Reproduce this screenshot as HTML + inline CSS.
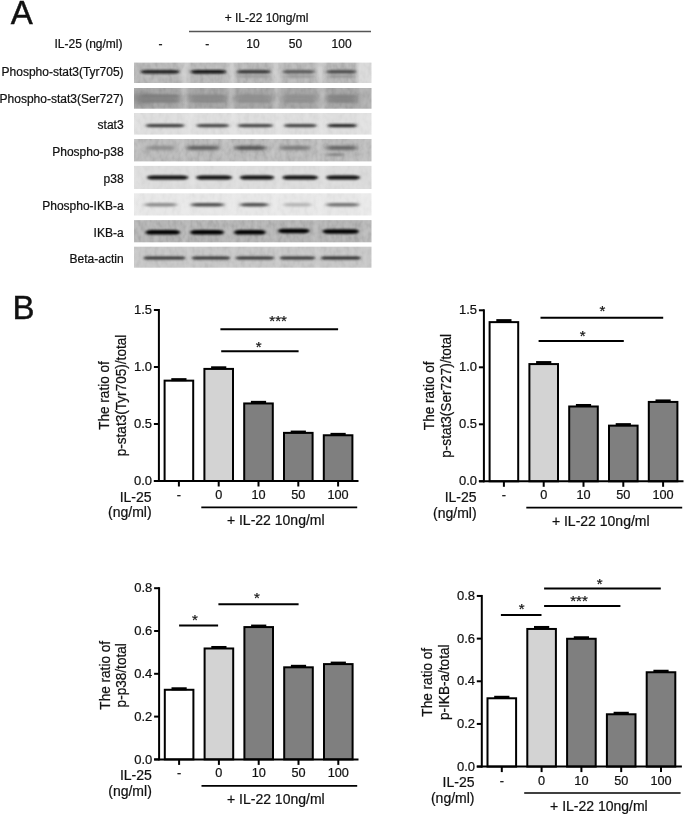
<!DOCTYPE html>
<html><head><meta charset="utf-8"><style>
html,body{margin:0;padding:0;background:#fff;width:685px;height:815px;overflow:hidden}
svg{display:block;will-change:transform}
text{font-family:"Liberation Sans",sans-serif;fill:#111;stroke:#111;stroke-width:0.22px}
</style></head><body>
<svg width="685" height="815" viewBox="0 0 685 815">
<defs><linearGradient id="g0" x1="0" x2="1" y1="0" y2="0"><stop offset="0.0000" stop-color="rgb(188,188,188)"/><stop offset="0.0168" stop-color="rgb(184,184,184)"/><stop offset="0.0337" stop-color="rgb(184,184,184)"/><stop offset="0.1853" stop-color="rgb(184,184,184)"/><stop offset="0.2105" stop-color="rgb(204,204,204)"/><stop offset="0.2189" stop-color="rgb(204,204,204)"/><stop offset="0.2442" stop-color="rgb(184,184,184)"/><stop offset="0.3815" stop-color="rgb(184,184,184)"/><stop offset="0.4059" stop-color="rgb(204,204,204)"/><stop offset="0.4143" stop-color="rgb(204,204,204)"/><stop offset="0.4387" stop-color="rgb(184,184,184)"/><stop offset="0.5697" stop-color="rgb(184,184,184)"/><stop offset="0.5964" stop-color="rgb(204,204,204)"/><stop offset="0.6048" stop-color="rgb(204,204,204)"/><stop offset="0.6316" stop-color="rgb(184,184,184)"/><stop offset="0.7549" stop-color="rgb(184,184,184)"/><stop offset="0.7811" stop-color="rgb(204,204,204)"/><stop offset="0.7895" stop-color="rgb(204,204,204)"/><stop offset="0.8156" stop-color="rgb(184,184,184)"/><stop offset="0.9297" stop-color="rgb(184,184,184)"/><stop offset="0.9507" stop-color="rgb(218,218,218)"/><stop offset="1.0000" stop-color="rgb(218,218,218)"/></linearGradient><filter id="f0_0" x="-30%" y="-200%" width="160%" height="500%"><feGaussianBlur stdDeviation="1.62 0.90"/></filter><filter id="f0_1" x="-30%" y="-200%" width="160%" height="500%"><feGaussianBlur stdDeviation="1.62 0.90"/></filter><filter id="f0_2" x="-30%" y="-200%" width="160%" height="500%"><feGaussianBlur stdDeviation="1.62 0.90"/></filter><filter id="f0_3" x="-30%" y="-200%" width="160%" height="500%"><feGaussianBlur stdDeviation="1.62 0.90"/></filter><filter id="f0_4" x="-30%" y="-200%" width="160%" height="500%"><feGaussianBlur stdDeviation="1.62 0.90"/></filter><filter id="f0_5" x="-30%" y="-200%" width="160%" height="500%"><feGaussianBlur stdDeviation="2.16 1.20"/></filter><filter id="f0_6" x="-30%" y="-200%" width="160%" height="500%"><feGaussianBlur stdDeviation="2.16 1.20"/></filter><filter id="f0_7" x="-30%" y="-200%" width="160%" height="500%"><feGaussianBlur stdDeviation="2.16 1.20"/></filter><linearGradient id="g1" x1="0" x2="1" y1="0" y2="0"><stop offset="0.0000" stop-color="rgb(166,166,166)"/><stop offset="0.0000" stop-color="rgb(170,170,170)"/><stop offset="0.0168" stop-color="rgb(166,166,166)"/><stop offset="0.1895" stop-color="rgb(166,166,166)"/><stop offset="0.2084" stop-color="rgb(186,186,186)"/><stop offset="0.2168" stop-color="rgb(186,186,186)"/><stop offset="0.2358" stop-color="rgb(166,166,166)"/><stop offset="0.3874" stop-color="rgb(166,166,166)"/><stop offset="0.4042" stop-color="rgb(186,186,186)"/><stop offset="0.4126" stop-color="rgb(186,186,186)"/><stop offset="0.4295" stop-color="rgb(166,166,166)"/><stop offset="0.5768" stop-color="rgb(166,166,166)"/><stop offset="0.5979" stop-color="rgb(186,186,186)"/><stop offset="0.6063" stop-color="rgb(186,186,186)"/><stop offset="0.6274" stop-color="rgb(166,166,166)"/><stop offset="0.7663" stop-color="rgb(166,166,166)"/><stop offset="0.7874" stop-color="rgb(186,186,186)"/><stop offset="0.7958" stop-color="rgb(186,186,186)"/><stop offset="0.8168" stop-color="rgb(166,166,166)"/><stop offset="0.9347" stop-color="rgb(166,166,166)"/><stop offset="0.9558" stop-color="rgb(176,176,176)"/><stop offset="1.0000" stop-color="rgb(176,176,176)"/></linearGradient><filter id="f1_0" x="-30%" y="-200%" width="160%" height="500%"><feGaussianBlur stdDeviation="3.60 2.00"/></filter><filter id="f1_1" x="-30%" y="-200%" width="160%" height="500%"><feGaussianBlur stdDeviation="3.60 2.00"/></filter><filter id="f1_2" x="-30%" y="-200%" width="160%" height="500%"><feGaussianBlur stdDeviation="3.60 2.00"/></filter><filter id="f1_3" x="-30%" y="-200%" width="160%" height="500%"><feGaussianBlur stdDeviation="3.60 2.00"/></filter><filter id="f1_4" x="-30%" y="-200%" width="160%" height="500%"><feGaussianBlur stdDeviation="3.60 2.00"/></filter><filter id="f1_5" x="-30%" y="-200%" width="160%" height="500%"><feGaussianBlur stdDeviation="5.40 3.00"/></filter><filter id="f1_6" x="-30%" y="-200%" width="160%" height="500%"><feGaussianBlur stdDeviation="1.80 1.00"/></filter><filter id="f1_7" x="-30%" y="-200%" width="160%" height="500%"><feGaussianBlur stdDeviation="1.80 1.00"/></filter><filter id="f1_8" x="-30%" y="-200%" width="160%" height="500%"><feGaussianBlur stdDeviation="1.80 1.00"/></filter><filter id="f1_9" x="-30%" y="-200%" width="160%" height="500%"><feGaussianBlur stdDeviation="1.80 1.00"/></filter><filter id="f1_10" x="-30%" y="-200%" width="160%" height="500%"><feGaussianBlur stdDeviation="1.80 1.00"/></filter><filter id="f1_11" x="-30%" y="-200%" width="160%" height="500%"><feGaussianBlur stdDeviation="1.80 1.00"/></filter><filter id="f1_12" x="-30%" y="-200%" width="160%" height="500%"><feGaussianBlur stdDeviation="1.80 1.00"/></filter><filter id="f1_13" x="-30%" y="-200%" width="160%" height="500%"><feGaussianBlur stdDeviation="1.80 1.00"/></filter><filter id="f1_14" x="-30%" y="-200%" width="160%" height="500%"><feGaussianBlur stdDeviation="1.80 1.00"/></filter><filter id="f1_15" x="-30%" y="-200%" width="160%" height="500%"><feGaussianBlur stdDeviation="1.80 1.00"/></filter><linearGradient id="g2" x1="0" x2="1" y1="0" y2="0"><stop offset="0.0000" stop-color="rgb(225,225,225)"/><stop offset="0.0379" stop-color="rgb(221,221,221)"/><stop offset="0.0547" stop-color="rgb(221,221,221)"/><stop offset="0.2072" stop-color="rgb(221,221,221)"/><stop offset="0.2335" stop-color="rgb(226,226,226)"/><stop offset="0.2419" stop-color="rgb(226,226,226)"/><stop offset="0.2682" stop-color="rgb(221,221,221)"/><stop offset="0.3949" stop-color="rgb(221,221,221)"/><stop offset="0.4143" stop-color="rgb(226,226,226)"/><stop offset="0.4227" stop-color="rgb(226,226,226)"/><stop offset="0.4421" stop-color="rgb(221,221,221)"/><stop offset="0.5798" stop-color="rgb(221,221,221)"/><stop offset="0.6040" stop-color="rgb(226,226,226)"/><stop offset="0.6124" stop-color="rgb(226,226,226)"/><stop offset="0.6366" stop-color="rgb(221,221,221)"/><stop offset="0.7642" stop-color="rgb(221,221,221)"/><stop offset="0.7876" stop-color="rgb(226,226,226)"/><stop offset="0.7960" stop-color="rgb(226,226,226)"/><stop offset="0.8194" stop-color="rgb(221,221,221)"/><stop offset="0.9335" stop-color="rgb(221,221,221)"/><stop offset="0.9545" stop-color="rgb(226,226,226)"/><stop offset="1.0000" stop-color="rgb(226,226,226)"/></linearGradient><filter id="f2_0" x="-30%" y="-200%" width="160%" height="500%"><feGaussianBlur stdDeviation="1.62 0.90"/></filter><filter id="f2_1" x="-30%" y="-200%" width="160%" height="500%"><feGaussianBlur stdDeviation="1.62 0.90"/></filter><filter id="f2_2" x="-30%" y="-200%" width="160%" height="500%"><feGaussianBlur stdDeviation="1.62 0.90"/></filter><filter id="f2_3" x="-30%" y="-200%" width="160%" height="500%"><feGaussianBlur stdDeviation="1.62 0.90"/></filter><filter id="f2_4" x="-30%" y="-200%" width="160%" height="500%"><feGaussianBlur stdDeviation="1.62 0.90"/></filter><linearGradient id="g3" x1="0" x2="1" y1="0" y2="0"><stop offset="0.0000" stop-color="rgb(190,190,190)"/><stop offset="0.0421" stop-color="rgb(186,186,186)"/><stop offset="0.0589" stop-color="rgb(186,186,186)"/><stop offset="0.1684" stop-color="rgb(186,186,186)"/><stop offset="0.1937" stop-color="rgb(192,192,192)"/><stop offset="0.2021" stop-color="rgb(192,192,192)"/><stop offset="0.2274" stop-color="rgb(186,186,186)"/><stop offset="0.3537" stop-color="rgb(186,186,186)"/><stop offset="0.3874" stop-color="rgb(192,192,192)"/><stop offset="0.3958" stop-color="rgb(192,192,192)"/><stop offset="0.4295" stop-color="rgb(186,186,186)"/><stop offset="0.5516" stop-color="rgb(186,186,186)"/><stop offset="0.5811" stop-color="rgb(192,192,192)"/><stop offset="0.5895" stop-color="rgb(192,192,192)"/><stop offset="0.6189" stop-color="rgb(186,186,186)"/><stop offset="0.7368" stop-color="rgb(186,186,186)"/><stop offset="0.7720" stop-color="rgb(192,192,192)"/><stop offset="0.7804" stop-color="rgb(192,192,192)"/><stop offset="0.8156" stop-color="rgb(186,186,186)"/><stop offset="0.9335" stop-color="rgb(186,186,186)"/><stop offset="0.9545" stop-color="rgb(190,190,190)"/><stop offset="1.0000" stop-color="rgb(190,190,190)"/></linearGradient><filter id="f3_0" x="-30%" y="-200%" width="160%" height="500%"><feGaussianBlur stdDeviation="2.70 1.50"/></filter><filter id="f3_1" x="-30%" y="-200%" width="160%" height="500%"><feGaussianBlur stdDeviation="2.70 1.50"/></filter><filter id="f3_2" x="-30%" y="-200%" width="160%" height="500%"><feGaussianBlur stdDeviation="2.70 1.50"/></filter><filter id="f3_3" x="-30%" y="-200%" width="160%" height="500%"><feGaussianBlur stdDeviation="2.70 1.50"/></filter><filter id="f3_4" x="-30%" y="-200%" width="160%" height="500%"><feGaussianBlur stdDeviation="2.70 1.50"/></filter><filter id="f3_5" x="-30%" y="-200%" width="160%" height="500%"><feGaussianBlur stdDeviation="2.16 1.20"/></filter><linearGradient id="g4" x1="0" x2="1" y1="0" y2="0"><stop offset="0.0000" stop-color="rgb(224,224,224)"/><stop offset="0.0446" stop-color="rgb(220,220,220)"/><stop offset="0.0615" stop-color="rgb(220,220,220)"/><stop offset="0.2219" stop-color="rgb(220,220,220)"/><stop offset="0.2408" stop-color="rgb(223,223,223)"/><stop offset="0.2493" stop-color="rgb(223,223,223)"/><stop offset="0.2682" stop-color="rgb(220,220,220)"/><stop offset="0.4063" stop-color="rgb(220,220,220)"/><stop offset="0.4253" stop-color="rgb(223,223,223)"/><stop offset="0.4337" stop-color="rgb(223,223,223)"/><stop offset="0.4526" stop-color="rgb(220,220,220)"/><stop offset="0.5836" stop-color="rgb(220,220,220)"/><stop offset="0.6034" stop-color="rgb(223,223,223)"/><stop offset="0.6118" stop-color="rgb(223,223,223)"/><stop offset="0.6316" stop-color="rgb(220,220,220)"/><stop offset="0.7680" stop-color="rgb(220,220,220)"/><stop offset="0.7876" stop-color="rgb(223,223,223)"/><stop offset="0.7960" stop-color="rgb(223,223,223)"/><stop offset="0.8156" stop-color="rgb(220,220,220)"/><stop offset="0.9448" stop-color="rgb(220,220,220)"/><stop offset="0.9659" stop-color="rgb(218,218,218)"/><stop offset="1.0000" stop-color="rgb(218,218,218)"/></linearGradient><filter id="f4_0" x="-30%" y="-200%" width="160%" height="500%"><feGaussianBlur stdDeviation="1.62 0.90"/></filter><filter id="f4_1" x="-30%" y="-200%" width="160%" height="500%"><feGaussianBlur stdDeviation="1.62 0.90"/></filter><filter id="f4_2" x="-30%" y="-200%" width="160%" height="500%"><feGaussianBlur stdDeviation="1.62 0.90"/></filter><filter id="f4_3" x="-30%" y="-200%" width="160%" height="500%"><feGaussianBlur stdDeviation="1.62 0.90"/></filter><filter id="f4_4" x="-30%" y="-200%" width="160%" height="500%"><feGaussianBlur stdDeviation="1.62 0.90"/></filter><linearGradient id="g5" x1="0" x2="1" y1="0" y2="0"><stop offset="0.0000" stop-color="rgb(234,234,234)"/><stop offset="0.0337" stop-color="rgb(230,230,230)"/><stop offset="0.0505" stop-color="rgb(230,230,230)"/><stop offset="0.1739" stop-color="rgb(230,230,230)"/><stop offset="0.2057" stop-color="rgb(233,233,233)"/><stop offset="0.2141" stop-color="rgb(233,233,233)"/><stop offset="0.2459" stop-color="rgb(230,230,230)"/><stop offset="0.3731" stop-color="rgb(230,230,230)"/><stop offset="0.4086" stop-color="rgb(233,233,233)"/><stop offset="0.4171" stop-color="rgb(233,233,233)"/><stop offset="0.4526" stop-color="rgb(230,230,230)"/><stop offset="0.5600" stop-color="rgb(230,230,230)"/><stop offset="0.5937" stop-color="rgb(233,233,233)"/><stop offset="0.6021" stop-color="rgb(233,233,233)"/><stop offset="0.6358" stop-color="rgb(230,230,230)"/><stop offset="0.7411" stop-color="rgb(230,230,230)"/><stop offset="0.7741" stop-color="rgb(233,233,233)"/><stop offset="0.7825" stop-color="rgb(233,233,233)"/><stop offset="0.8156" stop-color="rgb(230,230,230)"/><stop offset="0.9411" stop-color="rgb(230,230,230)"/><stop offset="0.9621" stop-color="rgb(234,234,234)"/><stop offset="1.0000" stop-color="rgb(234,234,234)"/></linearGradient><filter id="f5_0" x="-30%" y="-200%" width="160%" height="500%"><feGaussianBlur stdDeviation="2.16 1.20"/></filter><filter id="f5_1" x="-30%" y="-200%" width="160%" height="500%"><feGaussianBlur stdDeviation="2.16 1.20"/></filter><filter id="f5_2" x="-30%" y="-200%" width="160%" height="500%"><feGaussianBlur stdDeviation="2.16 1.20"/></filter><filter id="f5_3" x="-30%" y="-200%" width="160%" height="500%"><feGaussianBlur stdDeviation="2.16 1.20"/></filter><filter id="f5_4" x="-30%" y="-200%" width="160%" height="500%"><feGaussianBlur stdDeviation="2.16 1.20"/></filter><linearGradient id="g6" x1="0" x2="1" y1="0" y2="0"><stop offset="0.0000" stop-color="rgb(184,184,184)"/><stop offset="0.0375" stop-color="rgb(180,180,180)"/><stop offset="0.0543" stop-color="rgb(180,180,180)"/><stop offset="0.1886" stop-color="rgb(180,180,180)"/><stop offset="0.2112" stop-color="rgb(185,185,185)"/><stop offset="0.2196" stop-color="rgb(185,185,185)"/><stop offset="0.2421" stop-color="rgb(180,180,180)"/><stop offset="0.3731" stop-color="rgb(180,180,180)"/><stop offset="0.3956" stop-color="rgb(185,185,185)"/><stop offset="0.4040" stop-color="rgb(185,185,185)"/><stop offset="0.4265" stop-color="rgb(180,180,180)"/><stop offset="0.5491" stop-color="rgb(180,180,180)"/><stop offset="0.5764" stop-color="rgb(185,185,185)"/><stop offset="0.5848" stop-color="rgb(185,185,185)"/><stop offset="0.6122" stop-color="rgb(180,180,180)"/><stop offset="0.7335" stop-color="rgb(180,180,180)"/><stop offset="0.7625" stop-color="rgb(185,185,185)"/><stop offset="0.7709" stop-color="rgb(185,185,185)"/><stop offset="0.8000" stop-color="rgb(180,180,180)"/><stop offset="0.9411" stop-color="rgb(180,180,180)"/><stop offset="0.9621" stop-color="rgb(186,186,186)"/><stop offset="1.0000" stop-color="rgb(186,186,186)"/></linearGradient><filter id="f6_0" x="-30%" y="-200%" width="160%" height="500%"><feGaussianBlur stdDeviation="1.62 0.90"/></filter><filter id="f6_1" x="-30%" y="-200%" width="160%" height="500%"><feGaussianBlur stdDeviation="1.62 0.90"/></filter><filter id="f6_2" x="-30%" y="-200%" width="160%" height="500%"><feGaussianBlur stdDeviation="1.62 0.90"/></filter><filter id="f6_3" x="-30%" y="-200%" width="160%" height="500%"><feGaussianBlur stdDeviation="1.62 0.90"/></filter><filter id="f6_4" x="-30%" y="-200%" width="160%" height="500%"><feGaussianBlur stdDeviation="1.62 0.90"/></filter><linearGradient id="g7" x1="0" x2="1" y1="0" y2="0"><stop offset="0.0000" stop-color="rgb(202,202,202)"/><stop offset="0.0295" stop-color="rgb(198,198,198)"/><stop offset="0.0463" stop-color="rgb(198,198,198)"/><stop offset="0.2105" stop-color="rgb(198,198,198)"/><stop offset="0.2259" stop-color="rgb(202,202,202)"/><stop offset="0.2343" stop-color="rgb(202,202,202)"/><stop offset="0.2497" stop-color="rgb(198,198,198)"/><stop offset="0.3987" stop-color="rgb(198,198,198)"/><stop offset="0.4120" stop-color="rgb(202,202,202)"/><stop offset="0.4204" stop-color="rgb(202,202,202)"/><stop offset="0.4337" stop-color="rgb(198,198,198)"/><stop offset="0.5836" stop-color="rgb(198,198,198)"/><stop offset="0.5975" stop-color="rgb(202,202,202)"/><stop offset="0.6059" stop-color="rgb(202,202,202)"/><stop offset="0.6198" stop-color="rgb(198,198,198)"/><stop offset="0.7566" stop-color="rgb(198,198,198)"/><stop offset="0.7705" stop-color="rgb(202,202,202)"/><stop offset="0.7789" stop-color="rgb(202,202,202)"/><stop offset="0.7928" stop-color="rgb(198,198,198)"/><stop offset="0.9486" stop-color="rgb(198,198,198)"/><stop offset="0.9697" stop-color="rgb(200,200,200)"/><stop offset="1.0000" stop-color="rgb(200,200,200)"/></linearGradient><filter id="f7_0" x="-30%" y="-200%" width="160%" height="500%"><feGaussianBlur stdDeviation="1.44 0.80"/></filter><filter id="f7_1" x="-30%" y="-200%" width="160%" height="500%"><feGaussianBlur stdDeviation="1.44 0.80"/></filter><filter id="f7_2" x="-30%" y="-200%" width="160%" height="500%"><feGaussianBlur stdDeviation="1.44 0.80"/></filter><filter id="f7_3" x="-30%" y="-200%" width="160%" height="500%"><feGaussianBlur stdDeviation="1.44 0.80"/></filter><filter id="f7_4" x="-30%" y="-200%" width="160%" height="500%"><feGaussianBlur stdDeviation="1.44 0.80"/></filter><filter id="noise" x="0" y="0" width="100%" height="100%" color-interpolation-filters="sRGB"><feTurbulence type="fractalNoise" baseFrequency="0.22 0.14" numOctaves="2" seed="3" result="t"/><feColorMatrix in="t" type="matrix" values="1.6 0 0 0 -0.3  1.6 0 0 0 -0.3  1.6 0 0 0 -0.3  0 0 0 0 1"/></filter></defs>
<rect width="685" height="815" fill="#fff"/>
<text x="10.8" y="24.3" font-size="33" text-anchor="start" style="stroke-width:0.45px">A</text>
<text x="266.5" y="21.5" font-size="12" text-anchor="middle" >+ IL-22 10ng/ml</text>
<line x1="189" y1="31.5" x2="371" y2="31.5" stroke="#555" stroke-width="1.3"/>
<text x="122.5" y="48.4" font-size="12" text-anchor="end" >IL-25 (ng/ml)</text>
<text x="160.4" y="48.4" font-size="12" text-anchor="middle" >-</text>
<text x="207.3" y="48.4" font-size="12" text-anchor="middle" >-</text>
<text x="252.9" y="48.4" font-size="12" text-anchor="middle" >10</text>
<text x="295.5" y="48.4" font-size="12" text-anchor="middle" >50</text>
<text x="341.6" y="48.4" font-size="12" text-anchor="middle" >100</text>
<text x="123.6" y="75.6" font-size="12" text-anchor="end" >Phospho-stat3(Tyr705)</text>
<text x="123.6" y="102.5" font-size="12" text-anchor="end" >Phospho-stat3(Ser727)</text>
<text x="123.6" y="129.4" font-size="12" text-anchor="end" >stat3</text>
<text x="123.6" y="156.1" font-size="12" text-anchor="end" >Phospho-p38</text>
<text x="123.6" y="182.9" font-size="12" text-anchor="end" >p38</text>
<text x="123.6" y="209.9" font-size="12" text-anchor="end" >Phospho-IKB-a</text>
<text x="123.6" y="237.0" font-size="12" text-anchor="end" >IKB-a</text>
<text x="123.6" y="263.3" font-size="12" text-anchor="end" >Beta-actin</text>
<rect x="134" y="62.6" width="237.5" height="20.40" fill="url(#g0)"/>
<svg x="134" y="62.6" width="237.5" height="20.40" viewBox="134 62.6 237.5 20.40" overflow="hidden">
<rect x="134" y="62.6" width="237.5" height="20.40" fill="#888" filter="url(#noise)" opacity="0.25" style="mix-blend-mode:soft-light"/>
<rect x="140.50" y="69.90" width="39.00" height="3.6" rx="6.0" ry="1.8" fill="rgb(28,28,28)" filter="url(#f0_0)"/>
<rect x="190.50" y="69.90" width="35.60" height="3.6" rx="6.0" ry="1.8" fill="rgb(12,12,12)" filter="url(#f0_1)"/>
<rect x="236.70" y="69.90" width="34.10" height="3.6" rx="6.0" ry="1.8" fill="rgb(55,55,55)" filter="url(#f0_2)"/>
<rect x="282.50" y="69.90" width="32.30" height="3.6" rx="6.0" ry="1.8" fill="rgb(90,90,90)" filter="url(#f0_3)"/>
<rect x="326.20" y="69.90" width="30.10" height="3.6" rx="6.0" ry="1.8" fill="rgb(75,75,75)" filter="url(#f0_4)"/>
<rect x="238.50" y="75.30" width="32.00" height="2.2" rx="6.0" ry="1.1" fill="rgb(150,150,150)" filter="url(#f0_5)"/>
<rect x="284.50" y="75.30" width="30.00" height="2.2" rx="6.0" ry="1.1" fill="rgb(150,150,150)" filter="url(#f0_6)"/>
<rect x="327.50" y="75.30" width="28.00" height="2.2" rx="6.0" ry="1.1" fill="rgb(145,145,145)" filter="url(#f0_7)"/>
</svg>
<rect x="134" y="88.0" width="237.5" height="20.70" fill="url(#g1)"/>
<svg x="134" y="88.0" width="237.5" height="20.70" viewBox="134 88.0 237.5 20.70" overflow="hidden">
<rect x="134" y="88.0" width="237.5" height="20.70" fill="#888" filter="url(#noise)" opacity="0.18" style="mix-blend-mode:soft-light"/>
<rect x="136.50" y="95.50" width="44.00" height="6.0" rx="6.0" ry="3.0" fill="rgb(128,128,128)" filter="url(#f1_0)"/>
<rect x="188.50" y="95.50" width="39.00" height="6.0" rx="6.0" ry="3.0" fill="rgb(136,136,136)" filter="url(#f1_1)"/>
<rect x="234.50" y="95.50" width="38.00" height="6.0" rx="6.0" ry="3.0" fill="rgb(142,142,142)" filter="url(#f1_2)"/>
<rect x="281.50" y="95.50" width="36.00" height="6.0" rx="6.0" ry="3.0" fill="rgb(144,144,144)" filter="url(#f1_3)"/>
<rect x="326.50" y="95.50" width="31.00" height="6.0" rx="6.0" ry="3.0" fill="rgb(130,130,130)" filter="url(#f1_4)"/>
<rect x="134.50" y="92.00" width="15.00" height="12" rx="6.0" ry="6.0" fill="rgb(130,130,130)" filter="url(#f1_5)"/>
<rect x="140.50" y="95.00" width="39.00" height="2.0" rx="6.0" ry="1.0" fill="rgb(120,120,120)" filter="url(#f1_6)"/>
<rect x="140.50" y="100.00" width="39.00" height="2.0" rx="6.0" ry="1.0" fill="rgb(125,125,125)" filter="url(#f1_7)"/>
<rect x="190.50" y="95.50" width="35.00" height="2.0" rx="6.0" ry="1.0" fill="rgb(132,132,132)" filter="url(#f1_8)"/>
<rect x="190.50" y="100.00" width="35.00" height="2.0" rx="6.0" ry="1.0" fill="rgb(132,132,132)" filter="url(#f1_9)"/>
<rect x="236.50" y="95.50" width="34.00" height="2.0" rx="6.0" ry="1.0" fill="rgb(140,140,140)" filter="url(#f1_10)"/>
<rect x="236.50" y="100.00" width="34.00" height="2.0" rx="6.0" ry="1.0" fill="rgb(138,138,138)" filter="url(#f1_11)"/>
<rect x="283.50" y="95.50" width="32.00" height="2.0" rx="6.0" ry="1.0" fill="rgb(142,142,142)" filter="url(#f1_12)"/>
<rect x="283.50" y="100.00" width="32.00" height="2.0" rx="6.0" ry="1.0" fill="rgb(140,140,140)" filter="url(#f1_13)"/>
<rect x="327.50" y="95.50" width="29.00" height="2.0" rx="6.0" ry="1.0" fill="rgb(128,128,128)" filter="url(#f1_14)"/>
<rect x="327.50" y="100.00" width="29.00" height="2.0" rx="6.0" ry="1.0" fill="rgb(128,128,128)" filter="url(#f1_15)"/>
</svg>
<rect x="134" y="113.0" width="237.5" height="21.60" fill="url(#g2)"/>
<svg x="134" y="113.0" width="237.5" height="21.60" viewBox="134 113.0 237.5 21.60" overflow="hidden">
<rect x="134" y="113.0" width="237.5" height="21.60" fill="#888" filter="url(#noise)" opacity="0.22" style="mix-blend-mode:soft-light"/>
<rect x="145.50" y="124.00" width="39.20" height="3.2" rx="6.0" ry="1.6" fill="rgb(60,60,60)" filter="url(#f2_0)"/>
<rect x="196.20" y="124.00" width="33.10" height="3.2" rx="6.0" ry="1.6" fill="rgb(68,68,68)" filter="url(#f2_1)"/>
<rect x="237.50" y="124.00" width="35.70" height="3.2" rx="6.0" ry="1.6" fill="rgb(68,68,68)" filter="url(#f2_2)"/>
<rect x="283.70" y="124.00" width="33.30" height="3.2" rx="6.0" ry="1.6" fill="rgb(66,66,66)" filter="url(#f2_3)"/>
<rect x="327.10" y="124.00" width="30.10" height="3.2" rx="6.0" ry="1.6" fill="rgb(38,38,38)" filter="url(#f2_4)"/>
</svg>
<rect x="134" y="139.0" width="237.5" height="22.40" fill="url(#g3)"/>
<svg x="134" y="139.0" width="237.5" height="22.40" viewBox="134 139.0 237.5 22.40" overflow="hidden">
<rect x="134" y="139.0" width="237.5" height="22.40" fill="#888" filter="url(#noise)" opacity="0.25" style="mix-blend-mode:soft-light"/>
<rect x="146.50" y="146.00" width="29.00" height="3.8" rx="6.0" ry="1.9" fill="rgb(135,135,135)" filter="url(#f3_0)"/>
<rect x="186.50" y="146.00" width="33.00" height="3.8" rx="6.0" ry="1.9" fill="rgb(85,85,85)" filter="url(#f3_1)"/>
<rect x="234.50" y="146.00" width="32.00" height="3.8" rx="6.0" ry="1.9" fill="rgb(70,70,70)" filter="url(#f3_2)"/>
<rect x="279.50" y="146.00" width="31.00" height="3.8" rx="6.0" ry="1.9" fill="rgb(115,115,115)" filter="url(#f3_3)"/>
<rect x="326.20" y="146.00" width="31.00" height="3.8" rx="6.0" ry="1.9" fill="rgb(90,90,90)" filter="url(#f3_4)"/>
<rect x="325.50" y="153.30" width="19.00" height="2.6" rx="6.0" ry="1.3" fill="rgb(130,130,130)" filter="url(#f3_5)"/>
</svg>
<rect x="134" y="165.9" width="237.5" height="23.10" fill="url(#g4)"/>
<svg x="134" y="165.9" width="237.5" height="23.10" viewBox="134 165.9 237.5 23.10" overflow="hidden">
<rect x="134" y="165.9" width="237.5" height="23.10" fill="#888" filter="url(#noise)" opacity="0.18" style="mix-blend-mode:soft-light"/>
<rect x="147.10" y="175.40" width="41.10" height="4.2" rx="6.0" ry="2.1" fill="rgb(8,8,8)" filter="url(#f4_0)"/>
<rect x="196.20" y="175.40" width="35.80" height="4.2" rx="6.0" ry="2.1" fill="rgb(8,8,8)" filter="url(#f4_1)"/>
<rect x="240.00" y="175.40" width="34.10" height="4.2" rx="6.0" ry="2.1" fill="rgb(8,8,8)" filter="url(#f4_2)"/>
<rect x="282.50" y="175.40" width="35.40" height="4.2" rx="6.0" ry="2.1" fill="rgb(8,8,8)" filter="url(#f4_3)"/>
<rect x="326.20" y="175.40" width="33.70" height="4.2" rx="6.0" ry="2.1" fill="rgb(8,8,8)" filter="url(#f4_4)"/>
</svg>
<rect x="134" y="193.3" width="237.5" height="22.20" fill="url(#g5)"/>
<svg x="134" y="193.3" width="237.5" height="22.20" viewBox="134 193.3 237.5 22.20" overflow="hidden">
<rect x="134" y="193.3" width="237.5" height="22.20" fill="#888" filter="url(#noise)" opacity="0.25" style="mix-blend-mode:soft-light"/>
<rect x="144.50" y="203.10" width="32.30" height="3.4" rx="6.0" ry="1.7" fill="rgb(140,140,140)" filter="url(#f5_0)"/>
<rect x="190.90" y="203.10" width="33.20" height="3.4" rx="6.0" ry="1.7" fill="rgb(80,80,80)" filter="url(#f5_1)"/>
<rect x="240.00" y="203.10" width="28.50" height="3.4" rx="6.0" ry="1.7" fill="rgb(80,80,80)" filter="url(#f5_2)"/>
<rect x="283.50" y="203.10" width="28.00" height="3.4" rx="6.0" ry="1.7" fill="rgb(180,180,180)" filter="url(#f5_3)"/>
<rect x="326.20" y="203.10" width="32.80" height="3.4" rx="6.0" ry="1.7" fill="rgb(115,115,115)" filter="url(#f5_4)"/>
</svg>
<rect x="134" y="220.1" width="237.5" height="22.20" fill="url(#g6)"/>
<svg x="134" y="220.1" width="237.5" height="22.20" viewBox="134 220.1 237.5 22.20" overflow="hidden">
<rect x="134" y="220.1" width="237.5" height="22.20" fill="#888" filter="url(#noise)" opacity="0.25" style="mix-blend-mode:soft-light"/>
<rect x="145.40" y="230.05" width="34.90" height="4.5" rx="6.0" ry="2.25" fill="rgb(4,4,4)" filter="url(#f6_0)"/>
<rect x="190.00" y="230.05" width="34.10" height="4.5" rx="6.0" ry="2.25" fill="rgb(4,4,4)" filter="url(#f6_1)"/>
<rect x="233.80" y="230.05" width="32.10" height="4.5" rx="6.0" ry="2.25" fill="rgb(4,4,4)" filter="url(#f6_2)"/>
<rect x="277.90" y="228.65" width="31.80" height="4.5" rx="6.0" ry="2.25" fill="rgb(4,4,4)" filter="url(#f6_3)"/>
<rect x="322.50" y="229.15" width="36.50" height="4.5" rx="6.0" ry="2.25" fill="rgb(4,4,4)" filter="url(#f6_4)"/>
</svg>
<rect x="134" y="246.7" width="237.5" height="21.00" fill="url(#g7)"/>
<svg x="134" y="246.7" width="237.5" height="21.00" viewBox="134 246.7 237.5 21.00" overflow="hidden">
<rect x="134" y="246.7" width="237.5" height="21.00" fill="#888" filter="url(#noise)" opacity="0.2" style="mix-blend-mode:soft-light"/>
<rect x="143.50" y="256.40" width="42.00" height="3.2" rx="6.0" ry="1.6" fill="rgb(48,48,48)" filter="url(#f7_0)"/>
<rect x="191.80" y="256.40" width="38.40" height="3.2" rx="6.0" ry="1.6" fill="rgb(50,50,50)" filter="url(#f7_1)"/>
<rect x="235.50" y="256.40" width="38.60" height="3.2" rx="6.0" ry="1.6" fill="rgb(50,50,50)" filter="url(#f7_2)"/>
<rect x="279.70" y="256.40" width="35.50" height="3.2" rx="6.0" ry="1.6" fill="rgb(50,50,50)" filter="url(#f7_3)"/>
<rect x="320.80" y="256.40" width="40.00" height="3.2" rx="6.0" ry="1.6" fill="rgb(40,40,40)" filter="url(#f7_4)"/>
</svg>
<text x="12.4" y="318.9" font-size="33" text-anchor="start" style="stroke-width:0.45px">B</text>
<rect x="164.60" y="380.65" width="28.6" height="100.35" fill="#ffffff" stroke="#000" stroke-width="2"/>
<rect x="171.30" y="378.15" width="15.2" height="3.00" fill="#000"/>
<rect x="204.40" y="368.91" width="28.6" height="112.09" fill="#d3d3d3" stroke="#000" stroke-width="2"/>
<rect x="211.10" y="366.31" width="15.2" height="3.10" fill="#000"/>
<rect x="244.20" y="403.45" width="28.6" height="77.55" fill="#7f7f7f" stroke="#000" stroke-width="2"/>
<rect x="250.90" y="400.85" width="15.2" height="3.10" fill="#000"/>
<rect x="284.00" y="432.87" width="28.6" height="48.13" fill="#7f7f7f" stroke="#000" stroke-width="2"/>
<rect x="290.70" y="430.57" width="15.2" height="2.80" fill="#000"/>
<rect x="323.80" y="435.26" width="28.6" height="45.74" fill="#7f7f7f" stroke="#000" stroke-width="2"/>
<rect x="330.50" y="432.86" width="15.2" height="2.90" fill="#000"/>
<line x1="158.9" y1="309.00" x2="158.9" y2="482.0" stroke="#000" stroke-width="2"/>
<line x1="153.9" y1="481.0" x2="358.5" y2="481.0" stroke="#000" stroke-width="2"/>
<line x1="153.9" y1="481.00" x2="158.9" y2="481.00" stroke="#000" stroke-width="2"/>
<text x="152.1" y="485.1" font-size="13" text-anchor="end" >0.0</text>
<line x1="153.9" y1="424.00" x2="158.9" y2="424.00" stroke="#000" stroke-width="2"/>
<text x="152.1" y="428.1" font-size="13" text-anchor="end" >0.5</text>
<line x1="153.9" y1="367.00" x2="158.9" y2="367.00" stroke="#000" stroke-width="2"/>
<text x="152.1" y="371.1" font-size="13" text-anchor="end" >1.0</text>
<line x1="153.9" y1="310.00" x2="158.9" y2="310.00" stroke="#000" stroke-width="2"/>
<text x="152.1" y="314.1" font-size="13" text-anchor="end" >1.5</text>
<line x1="178.90" y1="481.0" x2="178.90" y2="486.5" stroke="#000" stroke-width="2"/>
<line x1="218.70" y1="481.0" x2="218.70" y2="486.5" stroke="#000" stroke-width="2"/>
<line x1="258.50" y1="481.0" x2="258.50" y2="486.5" stroke="#000" stroke-width="2"/>
<line x1="298.30" y1="481.0" x2="298.30" y2="486.5" stroke="#000" stroke-width="2"/>
<line x1="338.10" y1="481.0" x2="338.10" y2="486.5" stroke="#000" stroke-width="2"/>
<text x="178.9" y="498.9" font-size="12.7" text-anchor="middle" >-</text>
<text x="218.7" y="498.9" font-size="12.7" text-anchor="middle" >0</text>
<text x="258.5" y="498.9" font-size="12.7" text-anchor="middle" >10</text>
<text x="298.3" y="498.9" font-size="12.7" text-anchor="middle" >50</text>
<text x="338.1" y="498.9" font-size="12.7" text-anchor="middle" >100</text>
<text x="151.6" y="501.7" font-size="14" text-anchor="end" >IL-25</text>
<text x="151.6" y="517.4" font-size="14" text-anchor="end" >(ng/ml)</text>
<line x1="201.30" y1="507.4" x2="357.20" y2="507.4" stroke="#000" stroke-width="1.7"/>
<text x="275.75" y="525.3" font-size="14" text-anchor="middle" >+ IL-22 10ng/ml</text>
<g transform="translate(109.30,395.50) rotate(-90) scale(1,1.06)"><text x="0" y="0" font-size="13.6" text-anchor="middle">The ratio of</text></g>
<g transform="translate(126.20,395.50) rotate(-90) scale(1,1.06)"><text x="0" y="0" font-size="13.6" text-anchor="middle">p-stat3(Tyr705)/total</text></g>
<line x1="220.4" y1="329.2" x2="338.1" y2="329.2" stroke="#000" stroke-width="2"/>
<text x="278.1" y="326.2" font-size="15" text-anchor="middle" >***</text>
<line x1="221.2" y1="351.2" x2="298.6" y2="351.2" stroke="#000" stroke-width="2"/>
<text x="258.55" y="352.2" font-size="15" text-anchor="middle" >*</text>
<rect x="489.60" y="322.13" width="28.6" height="159.17" fill="#ffffff" stroke="#000" stroke-width="2"/>
<rect x="496.30" y="319.13" width="15.2" height="3.50" fill="#000"/>
<rect x="529.40" y="364.08" width="28.6" height="117.22" fill="#d3d3d3" stroke="#000" stroke-width="2"/>
<rect x="536.10" y="361.08" width="15.2" height="3.50" fill="#000"/>
<rect x="569.20" y="406.49" width="28.6" height="74.81" fill="#7f7f7f" stroke="#000" stroke-width="2"/>
<rect x="575.90" y="403.99" width="15.2" height="3.00" fill="#000"/>
<rect x="609.00" y="425.64" width="28.6" height="55.66" fill="#7f7f7f" stroke="#000" stroke-width="2"/>
<rect x="615.70" y="423.14" width="15.2" height="3.00" fill="#000"/>
<rect x="648.80" y="401.93" width="28.6" height="79.37" fill="#7f7f7f" stroke="#000" stroke-width="2"/>
<rect x="655.50" y="399.43" width="15.2" height="3.00" fill="#000"/>
<line x1="483.9" y1="309.30" x2="483.9" y2="482.3" stroke="#000" stroke-width="2"/>
<line x1="478.9" y1="481.3" x2="683.5" y2="481.3" stroke="#000" stroke-width="2"/>
<line x1="478.9" y1="481.30" x2="483.9" y2="481.30" stroke="#000" stroke-width="2"/>
<text x="477.09999999999997" y="485.4" font-size="13" text-anchor="end" >0.0</text>
<line x1="478.9" y1="424.30" x2="483.9" y2="424.30" stroke="#000" stroke-width="2"/>
<text x="477.09999999999997" y="428.4" font-size="13" text-anchor="end" >0.5</text>
<line x1="478.9" y1="367.30" x2="483.9" y2="367.30" stroke="#000" stroke-width="2"/>
<text x="477.09999999999997" y="371.4" font-size="13" text-anchor="end" >1.0</text>
<line x1="478.9" y1="310.30" x2="483.9" y2="310.30" stroke="#000" stroke-width="2"/>
<text x="477.09999999999997" y="314.4" font-size="13" text-anchor="end" >1.5</text>
<line x1="503.90" y1="481.3" x2="503.90" y2="486.8" stroke="#000" stroke-width="2"/>
<line x1="543.70" y1="481.3" x2="543.70" y2="486.8" stroke="#000" stroke-width="2"/>
<line x1="583.50" y1="481.3" x2="583.50" y2="486.8" stroke="#000" stroke-width="2"/>
<line x1="623.30" y1="481.3" x2="623.30" y2="486.8" stroke="#000" stroke-width="2"/>
<line x1="663.10" y1="481.3" x2="663.10" y2="486.8" stroke="#000" stroke-width="2"/>
<text x="503.9" y="499.2" font-size="12.7" text-anchor="middle" >-</text>
<text x="543.7" y="499.2" font-size="12.7" text-anchor="middle" >0</text>
<text x="583.5" y="499.2" font-size="12.7" text-anchor="middle" >10</text>
<text x="623.3" y="499.2" font-size="12.7" text-anchor="middle" >50</text>
<text x="663.1" y="499.2" font-size="12.7" text-anchor="middle" >100</text>
<text x="476.59999999999997" y="502.0" font-size="14" text-anchor="end" >IL-25</text>
<text x="476.59999999999997" y="517.7" font-size="14" text-anchor="end" >(ng/ml)</text>
<line x1="526.30" y1="507.7" x2="682.20" y2="507.7" stroke="#000" stroke-width="1.7"/>
<text x="600.75" y="525.6" font-size="14" text-anchor="middle" >+ IL-22 10ng/ml</text>
<g transform="translate(434.30,395.80) rotate(-90) scale(1,1.06)"><text x="0" y="0" font-size="13.6" text-anchor="middle">The ratio of</text></g>
<g transform="translate(451.20,395.80) rotate(-90) scale(1,1.06)"><text x="0" y="0" font-size="13.6" text-anchor="middle">p-stat3(Ser727)/total</text></g>
<line x1="540.5" y1="317.7" x2="663.2" y2="317.7" stroke="#000" stroke-width="2"/>
<text x="602.5" y="316.1" font-size="15" text-anchor="middle" >*</text>
<line x1="538.6" y1="340.9" x2="623.8" y2="340.9" stroke="#000" stroke-width="2"/>
<text x="582.6" y="340.6" font-size="15" text-anchor="middle" >*</text>
<rect x="164.80" y="689.78" width="28.6" height="69.62" fill="#ffffff" stroke="#000" stroke-width="2"/>
<rect x="171.50" y="687.28" width="15.2" height="3.00" fill="#000"/>
<rect x="204.60" y="648.48" width="28.6" height="110.92" fill="#d3d3d3" stroke="#000" stroke-width="2"/>
<rect x="211.30" y="645.98" width="15.2" height="3.00" fill="#000"/>
<rect x="244.40" y="627.08" width="28.6" height="132.32" fill="#7f7f7f" stroke="#000" stroke-width="2"/>
<rect x="251.10" y="624.58" width="15.2" height="3.00" fill="#000"/>
<rect x="284.20" y="667.31" width="28.6" height="92.09" fill="#7f7f7f" stroke="#000" stroke-width="2"/>
<rect x="290.90" y="664.81" width="15.2" height="3.00" fill="#000"/>
<rect x="324.00" y="664.10" width="28.6" height="95.30" fill="#7f7f7f" stroke="#000" stroke-width="2"/>
<rect x="330.70" y="661.60" width="15.2" height="3.00" fill="#000"/>
<line x1="159.1" y1="587.20" x2="159.1" y2="760.4" stroke="#000" stroke-width="2"/>
<line x1="154.1" y1="759.4" x2="358.5" y2="759.4" stroke="#000" stroke-width="2"/>
<line x1="154.1" y1="759.40" x2="159.1" y2="759.40" stroke="#000" stroke-width="2"/>
<text x="152.29999999999998" y="763.5" font-size="13" text-anchor="end" >0.0</text>
<line x1="154.1" y1="716.60" x2="159.1" y2="716.60" stroke="#000" stroke-width="2"/>
<text x="152.29999999999998" y="720.7" font-size="13" text-anchor="end" >0.2</text>
<line x1="154.1" y1="673.80" x2="159.1" y2="673.80" stroke="#000" stroke-width="2"/>
<text x="152.29999999999998" y="677.9" font-size="13" text-anchor="end" >0.4</text>
<line x1="154.1" y1="631.00" x2="159.1" y2="631.00" stroke="#000" stroke-width="2"/>
<text x="152.29999999999998" y="635.1" font-size="13" text-anchor="end" >0.6</text>
<line x1="154.1" y1="588.20" x2="159.1" y2="588.20" stroke="#000" stroke-width="2"/>
<text x="152.29999999999998" y="592.3" font-size="13" text-anchor="end" >0.8</text>
<line x1="179.10" y1="759.4" x2="179.10" y2="764.9" stroke="#000" stroke-width="2"/>
<line x1="218.90" y1="759.4" x2="218.90" y2="764.9" stroke="#000" stroke-width="2"/>
<line x1="258.70" y1="759.4" x2="258.70" y2="764.9" stroke="#000" stroke-width="2"/>
<line x1="298.50" y1="759.4" x2="298.50" y2="764.9" stroke="#000" stroke-width="2"/>
<line x1="338.30" y1="759.4" x2="338.30" y2="764.9" stroke="#000" stroke-width="2"/>
<text x="179.1" y="777.3" font-size="12.7" text-anchor="middle" >-</text>
<text x="218.9" y="777.3" font-size="12.7" text-anchor="middle" >0</text>
<text x="258.7" y="777.3" font-size="12.7" text-anchor="middle" >10</text>
<text x="298.5" y="777.3" font-size="12.7" text-anchor="middle" >50</text>
<text x="338.3" y="777.3" font-size="12.7" text-anchor="middle" >100</text>
<text x="151.79999999999998" y="780.1" font-size="14" text-anchor="end" >IL-25</text>
<text x="151.79999999999998" y="795.8" font-size="14" text-anchor="end" >(ng/ml)</text>
<line x1="201.50" y1="785.8" x2="357.20" y2="785.8" stroke="#000" stroke-width="1.7"/>
<text x="275.85" y="803.6999999999999" font-size="14" text-anchor="middle" >+ IL-22 10ng/ml</text>
<g transform="translate(109.50,675.30) rotate(-90) scale(1,1.06)"><text x="0" y="0" font-size="13.6" text-anchor="middle">The ratio of</text></g>
<g transform="translate(126.40,675.30) rotate(-90) scale(1,1.06)"><text x="0" y="0" font-size="13.6" text-anchor="middle">p-p38/total</text></g>
<line x1="179.1" y1="625.4" x2="218.1" y2="625.4" stroke="#000" stroke-width="2"/>
<text x="194.9" y="625.2" font-size="15" text-anchor="middle" >*</text>
<line x1="218.4" y1="604.2" x2="298.6" y2="604.2" stroke="#000" stroke-width="2"/>
<text x="256.9" y="603.2" font-size="15" text-anchor="middle" >*</text>
<rect x="487.50" y="698.28" width="28.6" height="68.32" fill="#ffffff" stroke="#000" stroke-width="2"/>
<rect x="494.20" y="695.78" width="15.2" height="3.00" fill="#000"/>
<rect x="527.30" y="628.96" width="28.6" height="137.64" fill="#d3d3d3" stroke="#000" stroke-width="2"/>
<rect x="534.00" y="625.96" width="15.2" height="3.50" fill="#000"/>
<rect x="567.10" y="638.77" width="28.6" height="127.83" fill="#7f7f7f" stroke="#000" stroke-width="2"/>
<rect x="573.80" y="636.27" width="15.2" height="3.00" fill="#000"/>
<rect x="606.90" y="714.27" width="28.6" height="52.33" fill="#7f7f7f" stroke="#000" stroke-width="2"/>
<rect x="613.60" y="711.77" width="15.2" height="3.00" fill="#000"/>
<rect x="646.70" y="672.25" width="28.6" height="94.35" fill="#7f7f7f" stroke="#000" stroke-width="2"/>
<rect x="653.40" y="669.75" width="15.2" height="3.00" fill="#000"/>
<line x1="481.8" y1="594.96" x2="481.8" y2="767.6" stroke="#000" stroke-width="2"/>
<line x1="476.8" y1="766.6" x2="681.9" y2="766.6" stroke="#000" stroke-width="2"/>
<line x1="476.8" y1="766.60" x2="481.8" y2="766.60" stroke="#000" stroke-width="2"/>
<text x="475.0" y="770.7" font-size="13" text-anchor="end" >0.0</text>
<line x1="476.8" y1="723.94" x2="481.8" y2="723.94" stroke="#000" stroke-width="2"/>
<text x="475.0" y="728.04" font-size="13" text-anchor="end" >0.2</text>
<line x1="476.8" y1="681.28" x2="481.8" y2="681.28" stroke="#000" stroke-width="2"/>
<text x="475.0" y="685.38" font-size="13" text-anchor="end" >0.4</text>
<line x1="476.8" y1="638.62" x2="481.8" y2="638.62" stroke="#000" stroke-width="2"/>
<text x="475.0" y="642.72" font-size="13" text-anchor="end" >0.6</text>
<line x1="476.8" y1="595.96" x2="481.8" y2="595.96" stroke="#000" stroke-width="2"/>
<text x="475.0" y="600.06" font-size="13" text-anchor="end" >0.8</text>
<line x1="501.80" y1="766.6" x2="501.80" y2="772.1" stroke="#000" stroke-width="2"/>
<line x1="541.60" y1="766.6" x2="541.60" y2="772.1" stroke="#000" stroke-width="2"/>
<line x1="581.40" y1="766.6" x2="581.40" y2="772.1" stroke="#000" stroke-width="2"/>
<line x1="621.20" y1="766.6" x2="621.20" y2="772.1" stroke="#000" stroke-width="2"/>
<line x1="661.00" y1="766.6" x2="661.00" y2="772.1" stroke="#000" stroke-width="2"/>
<text x="501.8" y="784.5" font-size="12.7" text-anchor="middle" >-</text>
<text x="541.6" y="784.5" font-size="12.7" text-anchor="middle" >0</text>
<text x="581.4" y="784.5" font-size="12.7" text-anchor="middle" >10</text>
<text x="621.2" y="784.5" font-size="12.7" text-anchor="middle" >50</text>
<text x="661.0" y="784.5" font-size="12.7" text-anchor="middle" >100</text>
<text x="474.5" y="787.3000000000001" font-size="14" text-anchor="end" >IL-25</text>
<text x="474.5" y="803.0" font-size="14" text-anchor="end" >(ng/ml)</text>
<line x1="524.20" y1="793.0" x2="680.60" y2="793.0" stroke="#000" stroke-width="1.7"/>
<text x="598.9" y="810.9" font-size="14" text-anchor="middle" >+ IL-22 10ng/ml</text>
<g transform="translate(432.20,682.28) rotate(-90) scale(1,1.06)"><text x="0" y="0" font-size="13.6" text-anchor="middle">The ratio of</text></g>
<g transform="translate(449.10,682.28) rotate(-90) scale(1,1.06)"><text x="0" y="0" font-size="13.6" text-anchor="middle">p-IKB-a/total</text></g>
<line x1="500.9" y1="615.1" x2="541.5" y2="615.1" stroke="#000" stroke-width="2"/>
<text x="521.7" y="613.9" font-size="15" text-anchor="middle" >*</text>
<line x1="544.1" y1="606.1" x2="620.4" y2="606.1" stroke="#000" stroke-width="2"/>
<text x="579.0" y="605.5" font-size="15" text-anchor="middle" >***</text>
<line x1="544.1" y1="588.5" x2="660.8" y2="588.5" stroke="#000" stroke-width="2"/>
<text x="599.6" y="588.8" font-size="15" text-anchor="middle" >*</text>
</svg></body></html>
